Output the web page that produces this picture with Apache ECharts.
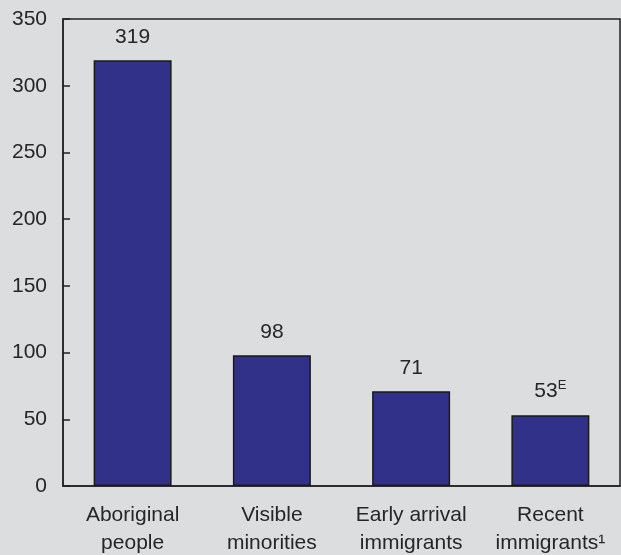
<!DOCTYPE html>
<html>
<head>
<meta charset="utf-8">
<style>
  html, body { margin: 0; padding: 0; background: #dcdddf; }
  #chart { width: 621px; height: 555px; }
</style>
<script src="https://cdn.jsdelivr.net/npm/echarts@6/dist/echarts.min.js"></script>
</head>
<body>
<div id="chart"></div>
<script>
// data
const categories = ['Aboriginal\npeople', 'Visible\nminorities', 'Early arrival\nimmigrants', 'Recent\nimmigrants¹'];
const values = [319, 98, 71, 53];
const valueNotes = ['', '', '', 'E'];   // superscript flags on the value labels

const chart = echarts.init(document.getElementById('chart'));

const textFont = { fontFamily: 'Liberation Sans, Arial, sans-serif', fontSize: 21, color: '#262626' };

chart.setOption({
  backgroundColor: '#dcdddf',
  animation: false,
  grid: {
    left: 63, right: 1, top: 19, bottom: 69,
    outerBoundsMode: 'none',
    containLabel: false,
    show: true, borderColor: '#222', borderWidth: 1.5, backgroundColor: 'transparent'
  },
  xAxis: {
    type: 'category',
    data: categories,
    axisLine: { lineStyle: { color: '#222', width: 1.5 } },
    axisTick: { show: false },
    axisLabel: { ...textFont, margin: 15, lineHeight: 28, interval: 0 }
  },
  yAxis: {
    type: 'value',
    min: 0, max: 350, interval: 50,
    splitLine: { show: false },
    axisLine: { show: true, lineStyle: { color: '#222', width: 1.5 } },
    axisTick: { show: true, inside: true, length: 7, lineStyle: { color: '#222', width: 1.5 } },
    axisLabel: { ...textFont, margin: 16 }
  },
  series: [{
    type: 'bar',
    data: values,
    barWidth: '56%',
    itemStyle: { color: '#31318a', borderColor: '#1a1a1a', borderWidth: 1.5 },
    label: {
      show: true,
      position: 'top',
      distance: 13,
      ...textFont,
      formatter: p => valueNotes[p.dataIndex] ? p.value + '{sup|' + valueNotes[p.dataIndex] + '}' : String(p.value),
      rich: {
        sup: { fontFamily: 'Liberation Sans, Arial, sans-serif', fontSize: 13, color: '#262626', verticalAlign: 'top', padding: [0, 0, 10, 0] }
      }
    }
  }]
});
</script>
</body>
</html>
